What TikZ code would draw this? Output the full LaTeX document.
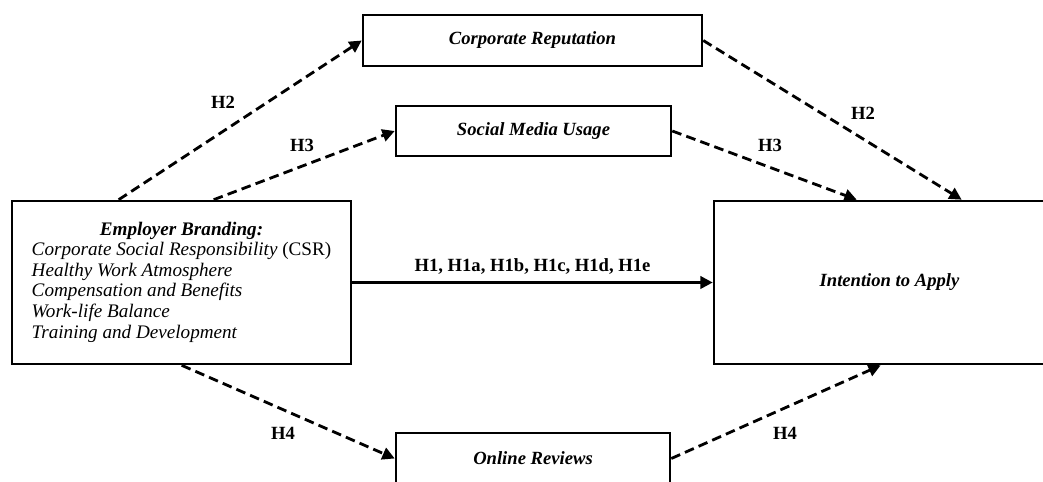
\documentclass[tikz,border=0pt]{standalone}
\usepackage{fontspec}
\setmainfont{Liberation Serif}
\usetikzlibrary{arrows.meta,positioning,calc}
\tikzset{
  model box/.style={draw,line width=1.5pt,inner sep=0pt,font=\fontsize{10.6}{11.7}\selectfont\bfseries\itshape},
  hyppath/.style={-{Triangle[length=7pt,width=7pt]},line width=1.6pt,dash pattern=on 5.5pt off 3pt},
  directpath/.style={-{Triangle[length=7pt,width=7pt]},line width=1.6pt},
  hyp label/.style={font=\fontsize{10.6}{12}\selectfont\bfseries,inner sep=1pt}
}
\begin{document}
\begin{tikzpicture}[x=0.02cm,y=-0.02cm]
  \useasboundingbox (0,0) rectangle (1043,482);

  % constructs
  \node[model box,minimum width=6.78cm,minimum height=3.26cm,
        font=\fontsize{10.9}{11.7}\selectfont\itshape] (emp) at (181.5,282.5)
    {\begin{tabular}{@{}l@{}}
       \multicolumn{1}{@{}c@{}}{\textbf{Employer Branding:}}\\
       Corporate Social Responsibility \textup{(CSR)}\\
       Healthy Work Atmosphere\\
       Compensation and Benefits\\
       Work-life Balance\\
       Training and Development
     \end{tabular}};
  \node[model box,minimum width=6.78cm,minimum height=1.02cm] (rep) at (532.5,40.5) {Corporate Reputation};
  \node[model box,minimum width=5.5cm,minimum height=1.0cm]   (smu) at (533.5,131)  {Social Media Usage};
  \node[model box,minimum width=5.48cm,minimum height=1.02cm] (rev) at (533,458.5)  {Online Reviews};
  \node[model box,minimum width=7.02cm,minimum height=3.26cm] (itp) at (889.5,282.5) {Intention to Apply};

  % direct effect
  \draw[directpath] (emp.east) -- (itp.west)
    node[hyp label,midway,above=3pt] (h1) {H1, H1a, H1b, H1c, H1d, H1e};

  % mediated paths
  \draw[hyppath] ([xshift=2.16cm]emp.north west) -- (rep.west);
  \draw[hyppath] ([xshift=4.06cm]emp.north west) -- (smu.west);
  \draw[hyppath] (rep.east) -- ([xshift=4.98cm]itp.north west);
  \draw[hyppath] (smu.east) -- ([xshift=2.88cm]itp.north west);
  \draw[hyppath] ([xshift=3.42cm]emp.south west) -- (rev.west);
  \draw[hyppath] (rev.east) -- ([xshift=3.36cm]itp.south west);

  \node[hyp label] (h2a) at (223,102) {H2};
  \node[hyp label] (h3a) at (302,145) {H3};
  \node[hyp label] (h2b) at (863,113) {H2};
  \node[hyp label] (h3b) at (770,145) {H3};
  \node[hyp label] (h4a) at (283,433) {H4};
  \node[hyp label] (h4b) at (785,433) {H4};
\end{tikzpicture}
\end{document}
